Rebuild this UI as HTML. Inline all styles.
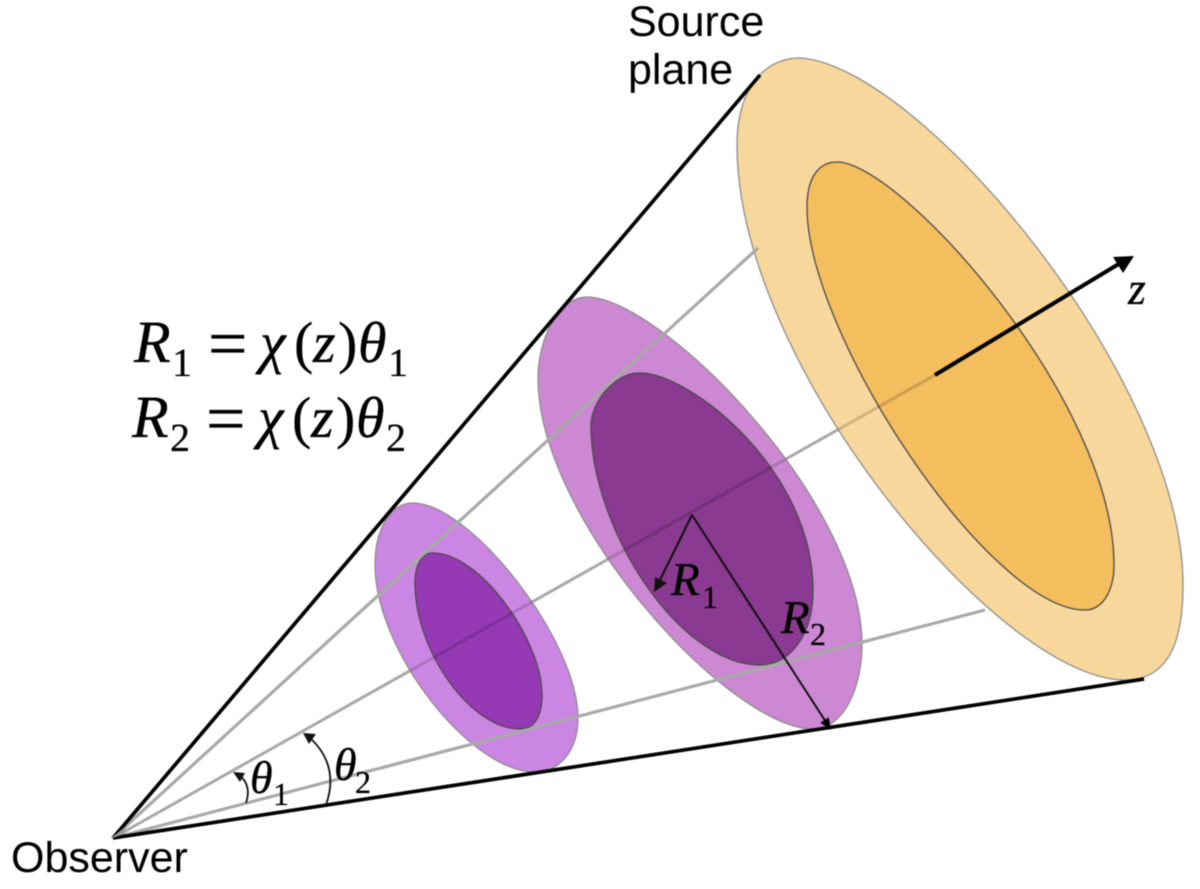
<!DOCTYPE html>
<html><head><meta charset="utf-8"><style>
html,body{margin:0;padding:0;background:#fff;width:1200px;height:889px;overflow:hidden}
svg{display:block;text-rendering:geometricPrecision}
.s{font-family:"Liberation Serif","Times New Roman",Times,serif;font-style:italic;fill:#000;stroke:#000;stroke-width:.35px}
.n{font-family:"Liberation Serif","Times New Roman",Times,serif;fill:#000;stroke:#000;stroke-width:.25px}
.a{font-family:"Liberation Sans",Arial,Helvetica,sans-serif;font-size:43px;fill:#000}
</style></head><body>
<svg width="1200" height="889" viewBox="0 0 1200 889" xmlns="http://www.w3.org/2000/svg">
<defs>
<clipPath id="c">
<path d="M800,58 C920,65 1183,380 1183,585 C1183,635 1172,680 1125,680 C1000,680 737,365 737,145 C737,95 760,58 800,58Z"/>
<path d="M587,297 C660,297 862,500 862,645 C862,685 845,729 813,729 C730,729 538,520 538,378 C538,340 558,297 587,297Z"/>
<path d="M413,503 C470,503 578,640 578,718 C578,750 560,772 535,772 C470,772 375,650 375,565 C375,530 390,503 413,503Z"/>
</clipPath>
</defs>
<g style="filter:blur(0.45px)">
<line x1="113" y1="838" x2="935" y2="375" stroke="#a9a9a9" stroke-width="3"/>
<line x1="113" y1="838" x2="760" y2="75" stroke="#000" stroke-width="3.5"/>
<line x1="113" y1="838" x2="1144" y2="679" stroke="#000" stroke-width="3.5"/>

<g stroke-width="1.3">
<path fill="#f7d79b" stroke="#8d8d8d" d="M800,58 C920,65 1183,380 1183,585 C1183,635 1172,680 1125,680 C1000,680 737,365 737,145 C737,95 760,58 800,58Z"/>
<path fill="#f4bd5d" stroke="#4a4a4a" d="M837,162 C900,162 1114,400 1114,565 C1114,590 1103,610 1085,610 C990,610 807,335 807,207 C807,180 817,162 837,162Z"/>
<path fill="#cc88d2" stroke="#8d8d8d" d="M587,297 C660,297 862,500 862,645 C862,685 845,729 813,729 C730,729 538,520 538,378 C538,340 558,297 587,297Z"/>
<path fill="#8a3a90" stroke="#4a4a4a" d="M640,373 C690,373 813,470 813,590 C813,635 790,665 760,665 C680,665 591,530 591,425 C591,405 612,373 640,373Z"/>
<path fill="#cb86e3" stroke="#8d8d8d" d="M413,503 C470,503 578,640 578,718 C578,750 560,772 535,772 C470,772 375,650 375,565 C375,530 390,503 413,503Z"/>
<path fill="#9639b5" stroke="#4a4a4a" d="M433,553 C480,553 542,640 542,695 C542,715 535,729 520,729 C470,729 415,650 415,583 C415,565 422,553 433,553Z"/>
</g>

<!-- dim centre line seen through the discs -->
<line x1="113" y1="838" x2="935" y2="375" stroke="#000" stroke-opacity=".16" stroke-width="3" clip-path="url(#c)"/>

<!-- top and bottom gray rays above discs -->
<line x1="113" y1="838" x2="758" y2="248" stroke="#a9a9a9" stroke-width="3.2" />
<line x1="113" y1="838" x2="985" y2="610" stroke="#a9a9a9" stroke-width="3.2"/>
<line x1="113" y1="838" x2="760" y2="75" stroke="#000" stroke-width="3.5"/>
<line x1="113" y1="838" x2="1144" y2="679" stroke="#000" stroke-width="3.5"/>
<polygon points="110,839 126,826 124,834" fill="#9a9a9a"/>

<!-- z arrow -->
<line x1="935" y1="375" x2="1122" y2="262" stroke="#000" stroke-width="4"/>
<polygon points="1134,256 1123,273 1113,257" fill="#000"/>

<!-- R arrows -->
<line x1="692" y1="515" x2="658" y2="584" stroke="#111" stroke-width="2"/>
<polygon points="654,592 655,577 667,583" fill="#111"/>
<line x1="692" y1="515" x2="826" y2="722" stroke="#111" stroke-width="2"/>
<polygon points="831,730 820.3,722.7 828.7,717.3" fill="#000"/>

<!-- angle arcs -->
<path d="M246,803 Q252,785 239,775" fill="none" stroke="#111" stroke-width="1.8"/>
<polygon points="233,772 245,773 240,782" fill="#111"/>
<path d="M326,805 Q340,765 309,737" fill="none" stroke="#111" stroke-width="1.8"/>
<polygon points="303,733 316,734 309,744" fill="#111"/>

<!-- text -->
<text class="a" x="628" y="36">Source</text>
<text class="a" x="628" y="84">plane</text>
<text class="a" x="11" y="872">Observer</text>

<text class="s" x="134" y="362" font-size="60">R</text>
<text class="n" x="172" y="376" font-size="40">1</text>
<text class="n" x="208" y="367" font-size="70">=</text>
<text class="s" x="260" y="362" font-size="58">χ</text>
<text class="n" x="294" y="362" font-size="58">(</text>
<text class="s" x="313" y="362" font-size="58">z</text>
<text class="n" x="338" y="362" font-size="58">)</text>
<text class="s" x="358" y="362" font-size="58">θ</text>
<text class="n" x="388" y="376" font-size="40">1</text>

<text class="s" x="132" y="437" font-size="60">R</text>
<text class="n" x="170" y="451" font-size="40">2</text>
<text class="n" x="206" y="442" font-size="70">=</text>
<text class="s" x="258" y="437" font-size="58">χ</text>
<text class="n" x="292" y="437" font-size="58">(</text>
<text class="s" x="311" y="437" font-size="58">z</text>
<text class="n" x="336" y="437" font-size="58">)</text>
<text class="s" x="356" y="437" font-size="58">θ</text>
<text class="n" x="386" y="451" font-size="40">2</text>

<text class="s" x="1128" y="304" font-size="46">z</text>
<text class="s" x="671" y="595" font-size="47">R</text>
<text class="n" x="702" y="608" font-size="32">1</text>
<text class="s" x="781" y="633" font-size="47">R</text>
<text class="n" x="810" y="645" font-size="32">2</text>

<text class="s" x="250" y="793" font-size="46">θ</text>
<text class="n" x="273" y="805" font-size="32">1</text>
<text class="s" x="334" y="780" font-size="46">θ</text>
<text class="n" x="355" y="793" font-size="32">2</text>
</g>
</svg>
</body></html>
